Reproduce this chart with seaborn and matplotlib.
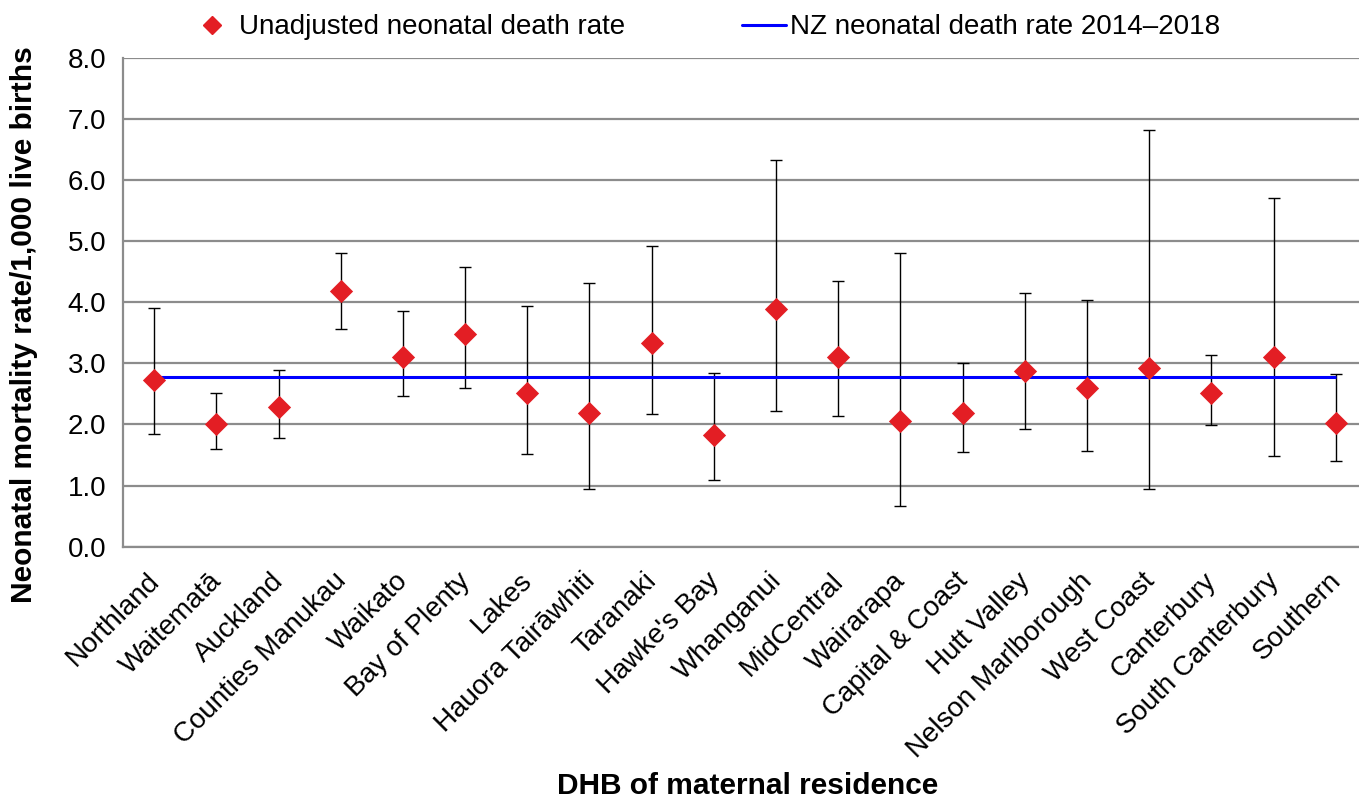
import numpy as np
import matplotlib
matplotlib.use("Agg")
import matplotlib.pyplot as plt
import matplotlib.transforms as mtransforms
import seaborn as sns
from matplotlib.lines import Line2D

# --- data ---
dhbs = [
    "Northland", "Waitematā", "Auckland", "Counties Manukau", "Waikato",
    "Bay of Plenty", "Lakes", "Hauora Tairāwhiti", "Taranaki", "Hawke's Bay",
    "Whanganui", "MidCentral", "Wairarapa", "Capital & Coast", "Hutt Valley",
    "Nelson Marlborough", "West Coast", "Canterbury", "South Canterbury", "Southern",
]
rate = [2.73, 2.01, 2.28, 4.19, 3.11, 3.48, 2.51, 2.19, 3.33, 1.83,
        3.89, 3.10, 2.06, 2.19, 2.88, 2.59, 2.92, 2.52, 3.10, 2.02]
ci_upper = [3.90, 2.51, 2.89, 4.80, 3.85, 4.57, 3.93, 4.31, 4.92, 2.84,
            6.32, 4.34, 4.80, 3.00, 4.15, 4.03, 6.82, 3.13, 5.70, 2.82]
ci_lower = [1.85, 1.60, 1.78, 3.56, 2.47, 2.59, 1.51, 0.95, 2.17, 1.09,
            2.22, 2.14, 0.67, 1.55, 1.92, 1.56, 0.95, 1.99, 1.49, 1.41]
nz_rate = 2.78

yticks = [0.0, 1.0, 2.0, 3.0, 4.0, 5.0, 6.0, 7.0, 8.0]

sns.set_theme(style="white")
plt.rcParams["font.family"] = ["Liberation Sans", "DejaVu Sans"]
plt.rcParams["text.color"] = "black"
plt.rcParams["axes.labelcolor"] = "black"

GRID = "#8c8c8c"
RED = "#e31e24"

fig = plt.figure(figsize=(13.59, 8.02), dpi=100)
ax = fig.add_axes([123 / 1359, 1 - 546.7 / 802, 1244 / 1359, (546.7 - 57.7) / 802])

x = np.arange(len(dhbs))
rate_arr = np.array(rate)
yerr = np.vstack([rate_arr - np.array(ci_lower), np.array(ci_upper) - rate_arr])

ax.errorbar(x, rate_arr, yerr=yerr, fmt="none", ecolor="black",
            elinewidth=1.0, capsize=4.5, capthick=1.0, zorder=2)
ax.hlines(nz_rate, x[0], x[-1], color="#0000ff", lw=2.2, zorder=3)
sns.scatterplot(x=x, y=rate, marker="D", s=140, color=RED,
                linewidth=0, ax=ax, zorder=4)

ax.set_xlim(-0.5, len(dhbs) - 0.5)
ax.set_ylim(0, 8)
ax.set_yticks(yticks)
ax.set_yticklabels([f"{v:.1f}" for v in yticks], fontsize=20)
ax.yaxis.grid(True, color=GRID, lw=1.6)
ax.set_axisbelow(True)

# category labels at centres, tick marks at the boundaries
ax.set_xticks(x)
ax.set_xticklabels(dhbs, rotation=45, ha="right", rotation_mode="anchor", fontsize=20)
ax.set_xticks(np.arange(len(dhbs) + 1) - 0.5, minor=True)
ax.tick_params(axis="x", which="major", length=0, pad=11, labelcolor="black")
ax.tick_params(axis="x", which="minor", length=7, width=1.6, color=GRID, direction="out")
ax.tick_params(axis="y", length=7, width=1.6, color=GRID, direction="out", pad=5,
               labelcolor="black")

# nudge the rotated labels a little left/down, like the original
shift = mtransforms.ScaledTranslation(-8 / 100, -6 / 100, fig.dpi_scale_trans)
for lab in ax.get_xticklabels():
    lab.set_transform(lab.get_transform() + shift)

for side in ["top", "right"]:
    ax.spines[side].set_visible(False)
for side in ["left", "bottom"]:
    ax.spines[side].set_color(GRID)
    ax.spines[side].set_linewidth(1.6)

ax.set_ylabel("Neonatal mortality rate/1,000 live births", fontsize=21.5,
              fontweight="bold")
ax.yaxis.set_label_coords(-0.068, 0.455)
fig.text(0.55, 0.002, "DHB of maternal residence", ha="center", va="bottom",
         fontsize=21.5, fontweight="bold")

handles = [
    Line2D([], [], marker="D", color=RED, ls="none", markersize=9),
    Line2D([], [], color="#0000ff", lw=2.2),
]
fig.legend(handles, ["Unadjusted neonatal death rate", "NZ neonatal death rate 2014\u20132018"],
           loc="center", bbox_to_anchor=(0.519, 0.966), ncol=2, frameon=False,
           fontsize=20, columnspacing=4.2, handlelength=1.6, handletextpad=0.15)

fig.savefig("out.png", dpi=100)
